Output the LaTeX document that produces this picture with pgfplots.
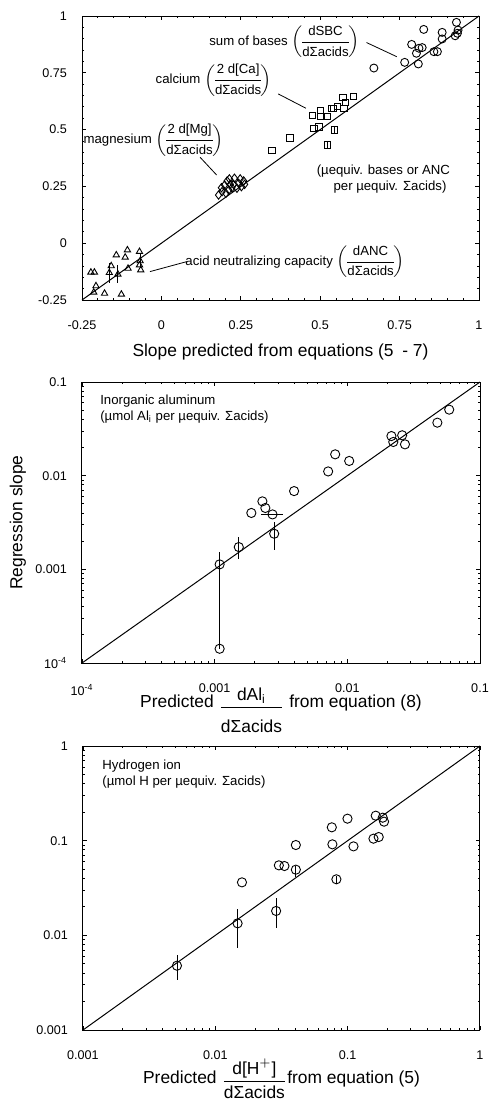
\documentclass[border=0pt]{standalone}
\usepackage{fontspec}
\setmainfont{Liberation Sans}
\usepackage{amsmath}
\usepackage{pgfplots}
\pgfplotsset{compat=1.18}

\pgfplotsset{
  panel/.style={scale only axis, anchor=north west, clip=false,
    axis line style={line width=0.5pt},
    every tick/.style={black, line width=0.4pt},
    major tick length=2.2pt, minor tick length=1.2pt,
    tick label style={font=\fontsize{6.3}{7}\selectfont},
    label style={font=\fontsize{8.7}{10}\selectfont},
    xticklabel style={yshift=-7pt},
    yticklabel style={xshift=-4pt},
  },
  pts/.style={only marks, mark options={solid, line width=0.45pt, fill=white},
    error bars/y dir=both, error bars/y explicit,
    error bars/x dir=both, error bars/x explicit,
    error bars/error mark=none,
    error bars/error bar style={line width=0.4pt}},
}
\tikzset{ann/.style={font=\fontsize{6.6}{8}\selectfont, inner sep=0pt}}
\newcommand{\pfrac}[2]{$\left(\mkern-3mu\dfrac{\text{#1}}{\text{#2}}\mkern-3mu\right)$}

\begin{document}
\begin{tikzpicture}
\path[use as bounding box] (0,0) rectangle (244pt,-552pt);

% ---- top panel: base cations and ANC
\begin{axis}[panel, at={(41pt,-8pt)}, width=198.5pt, height=142pt,
  xmin=-0.25, xmax=1, ymin=-0.25, ymax=1,
  xtick={-0.25,0,0.25,0.5,0.75,1}, xticklabels={-0.25,0,0.25,0.5,0.75,1},
  ytick={-0.25,0,0.25,0.5,0.75,1}, yticklabels={-0.25,0,0.25,0.5,0.75,1},
  minor tick num=4,
  xlabel={Slope predicted from equations (5\enspace- 7)},
  xlabel style={at={(axis description cs:0.5,-0.2)}, anchor=base},
]
\addplot[black, line width=0.5pt] coordinates {(-0.25,-0.25) (1,1)};
% sum of bases
\addplot[pts, mark=o, mark size=2pt] coordinates {
(0.669,0.771) (0.766,0.796) (0.788,0.875) (0.811,0.858) (0.803,0.836)
(0.821,0.861) (0.809,0.789) (0.826,0.941) (0.858,0.843) (0.869,0.843)
(0.884,0.928) (0.884,0.899) (0.925,0.913) (0.929,0.972) (0.932,0.924)
(0.934,0.938)
};
% calcium
\addplot[pts, mark=square, mark size=1.6pt] coordinates {
(0.348,0.407) (0.405,0.463) (0.476,0.561) (0.480,0.506) (0.496,0.511)
(0.500,0.583) (0.500,0.557) (0.523,0.557) (0.536,0.594) (0.541,0.594)
(0.554,0.601) (0.572,0.641) (0.575,0.594) (0.579,0.620) (0.604,0.645)
(0.523,0.432) += (0,0.015) -= (0,0.015)
(0.545,0.498) += (0,0.015) -= (0,0.015)
};
% magnesium
\addplot[pts, mark=diamond, mark size=2.1pt] coordinates {
(0.180,0.212) (0.191,0.227) (0.189,0.244) (0.199,0.256) (0.207,0.274)
(0.214,0.283) (0.230,0.286) (0.248,0.283) (0.259,0.274) (0.262,0.259)
(0.252,0.249) (0.238,0.242) (0.222,0.244) (0.212,0.234) (0.203,0.220)
(0.227,0.259) (0.217,0.259) (0.243,0.264)
};
% acid neutralizing capacity
\addplot[pts, mark=triangle, mark size=1.8pt] coordinates {
(-0.222,-0.128) (-0.211,-0.128) (-0.206,-0.188) (-0.213,-0.216)
(-0.179,-0.221) (-0.164,-0.130) += (0,0.045) -= (0,0.045)
(-0.158,-0.100) (-0.142,-0.052) (-0.137,-0.137) += (0,0.04) -= (0,0.04)
(-0.126,-0.225) (-0.114,-0.062) (-0.107,-0.030) (-0.105,-0.111)
(-0.069,-0.037) (-0.067,-0.078) += (0,0.03) -= (0,0.03)
(-0.069,-0.096) (-0.065,-0.118)
};
\node[ann, anchor=east] at (axis cs:0.625,0.886)
  {sum of bases \pfrac{dSBC}{dΣacids}};
\draw[line width=0.4pt] (axis cs:0.646,0.883) -- (axis cs:0.741,0.821);
\node[ann, anchor=east] at (axis cs:0.350,0.718)
  {calcium \pfrac{2 d[Ca]}{dΣacids}};
\draw[line width=0.4pt] (axis cs:0.368,0.657) -- (axis cs:0.455,0.594);
\node[ann, anchor=east] at (axis cs:0.197,0.454)
  {magnesium \pfrac{2 d[Mg]}{dΣacids}};
\draw[line width=0.4pt] (axis cs:0.122,0.378) -- (axis cs:0.174,0.300);
\node[ann, align=center] at (axis cs:0.699,0.283)
  {(µequiv. bases or ANC\\ \quad per µequiv. Σacids)};
\node[ann, anchor=east] at (axis cs:0.767,-0.081)
  {acid neutralizing capacity \pfrac{dANC}{dΣacids}};
\draw[line width=0.4pt] (axis cs:0.080,-0.081) -- (axis cs:-0.036,-0.125);
\end{axis}

% ---- middle panel: inorganic aluminum
\begin{axis}[panel, at={(41pt,-191pt)}, width=199pt, height=140.5pt,
  xmode=log, ymode=log,
  xmin=1e-4, xmax=0.1, ymin=1e-4, ymax=0.1,
  xtick={1e-4,1e-3,1e-2,1e-1}, xticklabels={10\textsuperscript{-4},0.001,0.01,0.1},
  ytick={1e-4,1e-3,1e-2,1e-1}, yticklabels={10\textsuperscript{-4},0.001,0.01,0.1},
  minor xtick={2e-4,3e-4,4e-4,5e-4,6e-4,7e-4,8e-4,9e-4,2e-3,3e-3,4e-3,5e-3,6e-3,7e-3,8e-3,9e-3,2e-2,3e-2,4e-2,5e-2,6e-2,7e-2,8e-2,9e-2},
  minor ytick={2e-4,3e-4,4e-4,5e-4,6e-4,7e-4,8e-4,9e-4,2e-3,3e-3,4e-3,5e-3,6e-3,7e-3,8e-3,9e-3,2e-2,3e-2,4e-2,5e-2,6e-2,7e-2,8e-2,9e-2},
  ylabel={Regression slope},
  ylabel style={at={(axis description cs:-0.161,0.5)}, anchor=center},
  xlabel={Predicted \raisebox{-2.5pt}{$\dfrac{\text{dAl}_{\text{i}}}{\rule{0pt}{11pt}\text{dΣacids}}$} from equation (8)},
  xlabel style={at={(axis description cs:0.5,-0.157)}, anchor=base},
]
\addplot[black, line width=0.5pt] coordinates {(1e-4,1e-4) (0.1,0.1)};
\addplot[black, line width=0.5pt] coordinates {(0.00109,0.000142) (0.00109,0.00113)};
\addplot[pts, mark=o, mark size=2.3pt] coordinates {
(0.00109,0.00113) += (0,0.0004) -= (0,0)
(0.00109,0.000142)
(0.00152,0.00173) += (0,0.0005) -= (0,0.00043)
(0.00189,0.0040) (0.00229,0.00532) (0.00241,0.00452)
(0.00273,0.00386) += (0.00055,0) -= (0.00048,0)
(0.00281,0.0024) += (0,0.0008) -= (0,0.00078)
(0.00397,0.00685) (0.00717,0.0111) (0.00810,0.0169) (0.01033,0.01436)
(0.0215,0.0265) (0.0222,0.0229) (0.0259,0.0270) (0.0272,0.0216)
(0.0477,0.0368) (0.0586,0.0507)
};
\node[ann, anchor=north west, align=left] at (rel axis cs:0.045,0.955)
  {Inorganic aluminum\\(µmol Al\textsubscript{i} per µequiv. Σacids)};
\end{axis}

% ---- bottom panel: hydrogen ion
\begin{axis}[panel, at={(41.5pt,-373pt)}, width=198.5pt, height=142pt,
  xmode=log, ymode=log,
  xmin=1e-3, xmax=1, ymin=1e-3, ymax=1,
  xtick={1e-3,1e-2,1e-1,1}, xticklabels={0.001,0.01,0.1,1},
  ytick={1e-3,1e-2,1e-1,1}, yticklabels={0.001,0.01,0.1,1},
  minor xtick={2e-3,3e-3,4e-3,5e-3,6e-3,7e-3,8e-3,9e-3,2e-2,3e-2,4e-2,5e-2,6e-2,7e-2,8e-2,9e-2,0.2,0.3,0.4,0.5,0.6,0.7,0.8,0.9},
  minor ytick={2e-3,3e-3,4e-3,5e-3,6e-3,7e-3,8e-3,9e-3,2e-2,3e-2,4e-2,5e-2,6e-2,7e-2,8e-2,9e-2,0.2,0.3,0.4,0.5,0.6,0.7,0.8,0.9},
  xlabel={Predicted \raisebox{-1pt}{$\dfrac{\text{d[H}^{+}\text{]}}{\text{dΣacids}}$}from equation (5)},
  xlabel style={at={(axis description cs:0.5,-0.19)}, anchor=base},
]
\addplot[black, line width=0.5pt] coordinates {(1e-3,1e-3) (1,1)};
\addplot[pts, mark=o, mark size=2.3pt] coordinates {
(0.00513,0.00478) += (0,0.0014) -= (0,0.0014)
(0.01473,0.01339) += (0,0.0056) -= (0,0.006)
(0.0159,0.0363)
(0.0288,0.0181) += (0,0.0065) -= (0,0.0062)
(0.0302,0.0549) (0.0333,0.0540) (0.0406,0.0900)
(0.0406,0.0494) += (0,0.004) -= (0,0.008)
(0.0759,0.1384) (0.0767,0.0915)
(0.0822,0.0391) += (0,0.003) -= (0,0.004)
(0.0997,0.1708) (0.1107,0.0871) (0.1567,0.1050) (0.1630,0.1837)
(0.1717,0.1093) (0.1841,0.1750) (0.1884,0.1588)
};
\node[ann, anchor=north west, align=left] at (rel axis cs:0.048,0.951)
  {Hydrogen ion\\(µmol H per µequiv. Σacids)};
\end{axis}
\end{tikzpicture}
\end{document}
